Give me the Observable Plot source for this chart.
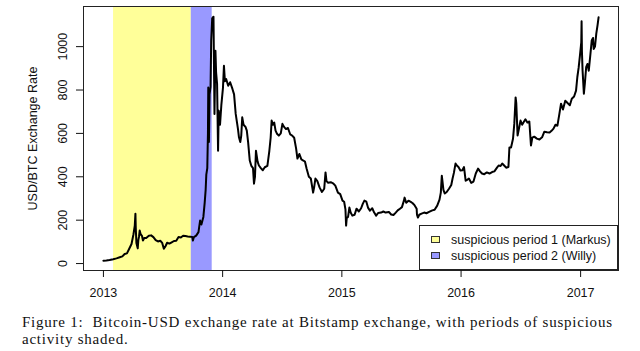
<!DOCTYPE html>
<html><head><meta charset="utf-8">
<script src="https://cdn.jsdelivr.net/npm/d3@7"></script>
<script src="https://cdn.jsdelivr.net/npm/@observablehq/plot@0.6"></script>
<style>
html,body{margin:0;padding:0;background:#fff;}
#wrap{position:relative;width:640px;height:351px;overflow:hidden;}
#legend{position:absolute;left:419px;top:225px;width:199px;height:45px;border:1px solid #222;background:#fff;box-sizing:border-box;font:12.5px "Liberation Sans",Arial,sans-serif;color:#111;}
.sw{position:absolute;left:11px;width:9px;height:7px;border:1px solid #333;box-sizing:border-box;}
.lt{position:absolute;left:31px;white-space:nowrap;line-height:14px;}
#caption{position:absolute;left:22px;top:314px;width:590px;font:15px "Liberation Serif","Times New Roman",serif;line-height:17px;color:#111;}
#caption .l1{white-space:nowrap;display:inline-block;}
</style></head>
<body><div id="wrap"><div id="chart"></div><div id="legend"></div><div id="caption"></div></div>
<script>
const dates = [
"2013-01-01","2013-01-10","2013-01-20","2013-01-31","2013-02-10","2013-02-20","2013-02-28","2013-03-07","2013-03-14","2013-03-21","2013-03-28",
"2013-04-03","2013-04-07","2013-04-09","2013-04-10","2013-04-12","2013-04-16","2013-04-18","2013-04-20","2013-04-22","2013-04-25","2013-04-29",
"2013-05-02","2013-05-06","2013-05-12","2013-05-20","2013-05-27","2013-06-03","2013-06-10","2013-06-17","2013-06-24","2013-06-30",
"2013-07-05","2013-07-10","2013-07-15","2013-07-22","2013-07-29","2013-08-05","2013-08-12","2013-08-19","2013-08-26",
"2013-09-02","2013-09-09","2013-09-16","2013-09-23","2013-09-30","2013-10-02","2013-10-05","2013-10-12","2013-10-19","2013-10-24","2013-10-28",
"2013-11-03","2013-11-07","2013-11-10","2013-11-12","2013-11-15","2013-11-17","2013-11-18","2013-11-20","2013-11-22","2013-11-25","2013-11-27","2013-11-30",
"2013-12-04","2013-12-06","2013-12-07","2013-12-10","2013-12-12","2013-12-15","2013-12-18","2013-12-20","2013-12-24","2013-12-28",
"2014-01-02","2014-01-05","2014-01-08","2014-01-12","2014-01-18","2014-01-24","2014-01-31","2014-02-05","2014-02-10","2014-02-14","2014-02-17","2014-02-20","2014-02-24","2014-02-27",
"2014-03-02","2014-03-06","2014-03-12","2014-03-16","2014-03-20","2014-03-25","2014-03-30","2014-04-04","2014-04-07","2014-04-10","2014-04-13","2014-04-18","2014-04-22","2014-04-28",
"2014-05-04","2014-05-10","2014-05-18","2014-05-24","2014-05-28","2014-05-31","2014-06-04","2014-06-08","2014-06-12","2014-06-17","2014-06-22","2014-06-28",
"2014-07-03","2014-07-08","2014-07-14","2014-07-20","2014-07-27","2014-08-02","2014-08-08","2014-08-14","2014-08-18","2014-08-24","2014-08-30",
"2014-09-05","2014-09-10","2014-09-15","2014-09-22","2014-09-28","2014-10-05","2014-10-08","2014-10-12","2014-10-18","2014-10-25",
"2014-11-01","2014-11-08","2014-11-12","2014-11-15","2014-11-20","2014-11-28","2014-12-05","2014-12-12","2014-12-20","2014-12-27",
"2015-01-03","2015-01-08","2015-01-12","2015-01-14","2015-01-16","2015-01-20","2015-01-24","2015-01-28","2015-02-02","2015-02-09","2015-02-15","2015-02-22",
"2015-03-01","2015-03-06","2015-03-11","2015-03-17","2015-03-22","2015-03-28","2015-04-04","2015-04-10","2015-04-16","2015-04-22",
"2015-05-01","2015-05-08","2015-05-15","2015-05-25","2015-06-01","2015-06-08","2015-06-15","2015-06-21","2015-06-28",
"2015-07-04","2015-07-10","2015-07-12","2015-07-17","2015-07-24","2015-07-31","2015-08-06","2015-08-12","2015-08-18","2015-08-19","2015-08-22","2015-08-26",
"2015-09-02","2015-09-10","2015-09-17","2015-09-25","2015-10-05","2015-10-12","2015-10-20","2015-10-27","2015-10-31",
"2015-11-03","2015-11-05","2015-11-08","2015-11-12","2015-11-18","2015-11-25","2015-12-02","2015-12-06","2015-12-10","2015-12-15","2015-12-19","2015-12-24","2015-12-30",
"2016-01-05","2016-01-10","2016-01-15","2016-01-19","2016-01-25","2016-02-01","2016-02-08","2016-02-15","2016-02-22","2016-02-28",
"2016-03-05","2016-03-12","2016-03-20","2016-03-28","2016-04-05","2016-04-12","2016-04-20","2016-04-25",
"2016-05-01","2016-05-06","2016-05-12","2016-05-18","2016-05-25","2016-05-28","2016-06-02","2016-06-08","2016-06-12","2016-06-16","2016-06-18","2016-06-22","2016-06-26",
"2016-07-01","2016-07-06","2016-07-10","2016-07-16","2016-07-22","2016-07-28","2016-08-02","2016-08-06","2016-08-12","2016-08-20","2016-08-28",
"2016-09-05","2016-09-12","2016-09-20","2016-09-28","2016-10-04","2016-10-10","2016-10-16","2016-10-22","2016-10-28",
"2016-11-02","2016-11-08","2016-11-15","2016-11-22","2016-11-29","2016-12-05","2016-12-12","2016-12-18","2016-12-22","2016-12-26","2016-12-30",
"2017-01-03","2017-01-04","2017-01-05","2017-01-07","2017-01-11","2017-01-14","2017-01-18","2017-01-22","2017-01-26","2017-01-31",
"2017-02-04","2017-02-08","2017-02-10","2017-02-14","2017-02-18","2017-02-22","2017-02-25"
];
const usd = [
13.5,14,16,20,24,29,33,44,47,68,90,
135,175,230,165,95,70,110,125,152,135,128,
106,118,118,128,130,122,108,102,105,95,
68,80,96,92,98,104,105,122,120,
128,127,125,124,123,106,122,129,145,198,180,
215,280,340,410,440,600,812,560,780,815,1028,1130,
1138,840,690,981,880,829,520,705,640,730,
810,912,840,850,820,836,805,780,690,650,620,582,560,590,
674,640,630,613,560,475,450,440,368,400,520,470,452,440,
430,444,450,520,580,659,640,650,613,597,590,600,
644,630,620,625,595,590,580,530,484,505,480,
475,470,438,400,392,327,350,392,380,350,
330,345,420,380,373,375,370,359,327,320,
290,285,250,175,210,215,258,235,221,225,253,240,
255,275,290,285,258,244,255,235,221,233,
235,240,235,238,226,224,235,245,253,
260,290,304,280,290,284,278,268,253,225,212,225,
230,235,232,238,245,248,267,295,327,
405,380,340,323,330,345,362,392,418,461,452,445,429,
430,445,382,385,392,372,378,415,438,425,
415,412,420,415,422,425,442,452,
450,461,452,442,445,535,535,575,645,766,740,590,620,
659,640,650,665,650,655,544,580,585,576,572,
582,608,605,604,612,622,640,636,690,
737,710,751,740,730,760,770,797,860,903,960,
1020,1117,980,890,783,830,905,920,889,965,
1028,1040,989,1000,1060,1100,1135
];
const periodLabels = ["suspicious period 1 (Markus)","suspicious period 2 (Willy)"];
const periodStart = ["2013-02-01","2013-09-27"];
const periodEnd = ["2013-09-27","2013-11-30"];
const periodColors = ["#ffff99","#9999ff"];
const xTickYears = [2013,2014,2015,2016,2017];
const yTicks = [0,200,400,600,800,1000];
const xDomain = ["2012-11-01","2017-04-27"];
const yDomain = [-32,1185];
const yTitle = "USD/BTC Exchange Rate";
const captionLine1 = "Figure 1:\u00a0 Bitcoin-USD exchange rate at Bitstamp exchange, with periods of suspicious";
const captionLine2 = "activity shaded.";

const data = dates.map((d,i)=>({date:new Date(d), usd:usd[i]}));
const periods = periodLabels.map((l,i)=>({label:l, start:new Date(periodStart[i]), end:new Date(periodEnd[i]), color:periodColors[i]}));
const xTicks = xTickYears.map(y=>new Date(Date.UTC(y,0,1)));

const chart = Plot.plot({
  width:640, height:305,
  marginLeft:83, marginRight:22, marginTop:6, marginBottom:35,
  x:{type:"utc", domain:xDomain.map(d=>new Date(d))},
  y:{domain:yDomain},
  color:{type:"identity"},
  style:{fontFamily:'"Liberation Sans", Arial, sans-serif', fontSize:"12px", color:"#111", background:"#fff"},
  marks:[
    Plot.rect(periods,{x1:"start", x2:"end", fill:"color"}),
    Plot.line(data,{x:"date", y:"usd", stroke:"#000", strokeWidth:2, strokeLinejoin:"round"}),
    Plot.frame({stroke:"#222"}),
    Plot.axisX(xTicks,{tickSize:7, tickPadding:11, tickFormat:d3.utcFormat("%Y"), label:null, fontSize:12.5}),
    Plot.axisY(yTicks,{tickSize:7, tickPadding:10, tickRotate:-90, tickFormat:d=>String(d), label:null, fontSize:12.5}),
    Plot.text([yTitle],{frameAnchor:"left", dx:-51, rotate:-90, textAnchor:"middle", fontSize:12.5, fill:"#111"})
  ]
});
document.getElementById("chart").appendChild(chart);

const legend = document.getElementById("legend");
periods.forEach((p,i)=>{
  const sw = document.createElement("div");
  sw.className="sw"; sw.style.top=(10+i*16)+"px"; sw.style.background=p.color;
  legend.appendChild(sw);
  const t = document.createElement("div");
  t.className="lt"; t.style.top=(7+i*16)+"px"; t.textContent=p.label;
  legend.appendChild(t);
});
const cap = document.getElementById("caption");
const l1 = document.createElement("div"); l1.className="l1"; l1.textContent=captionLine1; cap.appendChild(l1);
const l2 = document.createElement("div"); l2.textContent=captionLine2; cap.appendChild(l2);
const w = l1.getBoundingClientRect().width;
const ls = Math.max(-0.5, Math.min(1.2, (590 - w) / (captionLine1.length - 1)));
cap.style.letterSpacing = ls + "px";
</script></body></html>
